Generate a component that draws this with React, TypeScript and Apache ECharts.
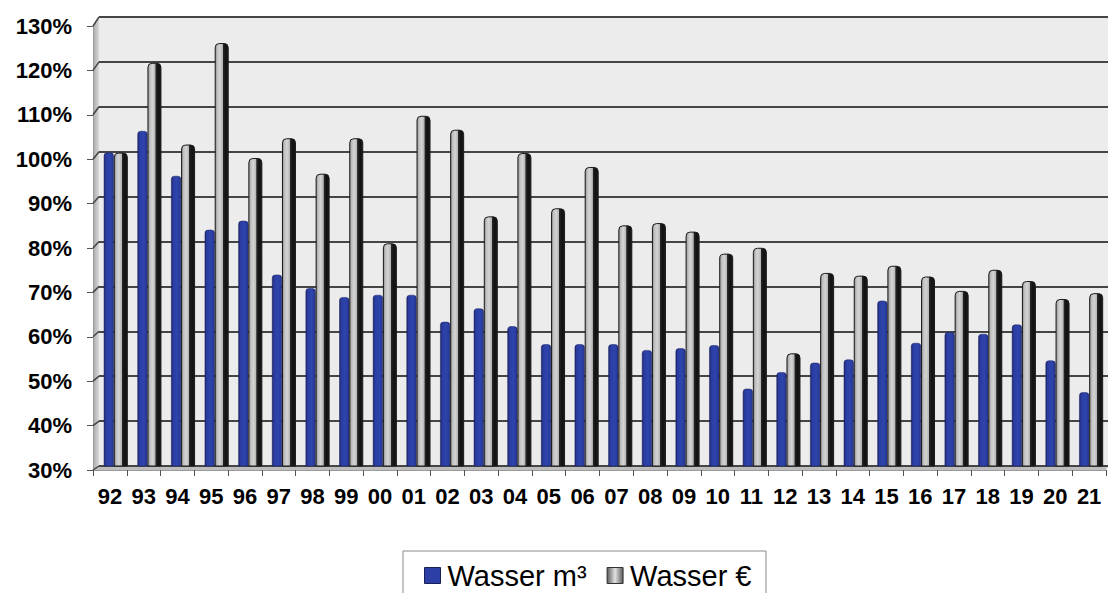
import React, { useEffect, useRef } from "react";
import * as echarts from "echarts";

const years = ["92","93","94","95","96","97","98","99","00","01","02","03","04","05","06","07","08","09","10","11","12","13","14","15","16","17","18","19","20","21"];
const wasserM3 = [99.8, 104.6, 94.6, 82.6, 84.6, 72.6, 69.6, 67.6, 68.1, 68.1, 62.1, 65.1, 61.1, 57.1, 57.1, 57.1, 55.8, 56.2, 56.9, 47.2, 50.9, 53, 53.7, 66.8, 57.4, 59.8, 59.4, 61.5, 53.5, 46.4];
const wasserEur = [99.8, 119.8, 101.6, 124.2, 98.6, 103, 95.1, 103, 79.6, 108, 104.9, 85.6, 99.7, 87.4, 96.6, 83.6, 84.1, 82.2, 77.3, 78.6, 55.1, 73, 72.4, 74.6, 72.2, 69, 73.7, 71.2, 67.2, 68.5];
const yMin = 30;
const yMax = 130;
const yStep = 10;

const W = 1110;
const H = 593;
const FRONT = { left: 93, right: 1106, top: 26, bottom: 470 };
const BACK = { left: 99, right: 1108, top: 17, bottom: 466 };
const FONT = "'Liberation Sans', Arial, Helvetica, sans-serif";

function frontY(v: number) {
  return FRONT.bottom - ((v - yMin) / (yMax - yMin)) * (FRONT.bottom - FRONT.top);
}
function backY(v: number) {
  return BACK.bottom - ((v - yMin) / (yMax - yMin)) * (BACK.bottom - BACK.top);
}

export default function App() {
  const ref = useRef<HTMLDivElement>(null);
  useEffect(() => {
    if (!ref.current) return;
    const chart = echarts.init(ref.current, undefined, { renderer: "svg" });

    const wallLines: any[] = [];
    for (let v = yMin; v <= yMax; v += yStep) {
      wallLines.push({
        type: "line",
        z: 1,
        shape: { x1: FRONT.left, y1: frontY(v), x2: BACK.left, y2: backY(v) },
        style: { stroke: "#444", lineWidth: 1.5 },
      });
    }

    const grayFill = new echarts.graphic.LinearGradient(0, 0, 1, 0, [
      { offset: 0, color: "#8a8a8a" },
      { offset: 0.15, color: "#bfbfbf" },
      { offset: 0.35, color: "#d4d4d4" },
      { offset: 0.56, color: "#b4b4b4" },
      { offset: 0.6, color: "#262626" },
      { offset: 0.8, color: "#111111" },
      { offset: 1, color: "#1c1c1c" },
    ]);
    const blueFill = new echarts.graphic.LinearGradient(0, 0, 1, 0, [
      { offset: 0, color: "#1a2168" },
      { offset: 0.18, color: "#2a3c9f" },
      { offset: 0.6, color: "#2e44ad" },
      { offset: 1, color: "#263792" },
    ]);

    chart.setOption({
      animation: false,
      backgroundColor: "#ffffff",
      textStyle: { fontFamily: FONT },
      grid: [
        {
          left: BACK.left,
          right: W - BACK.right,
          top: BACK.top,
          bottom: H - BACK.bottom,
          show: true,
          backgroundColor: "#ececec",
          borderWidth: 0,
        },
        {
          left: FRONT.left,
          right: W - FRONT.right,
          top: FRONT.top,
          bottom: H - FRONT.bottom,
          show: false,
        },
      ],
      xAxis: [
        {
          gridIndex: 0,
          type: "category",
          data: years,
          boundaryGap: true,
          show: false,
        },
        {
          gridIndex: 1,
          type: "category",
          data: years,
          boundaryGap: true,
          axisLine: { show: true, lineStyle: { color: "#9a9a9a", width: 1 } },
          axisTick: { show: true, length: 6, lineStyle: { color: "#555" } },
          axisLabel: {
            margin: 15,
            color: "#000",
            fontWeight: "bold",
            fontSize: 22,
            fontFamily: FONT,
            interval: 0,
          },
          splitLine: { show: false },
        },
      ],
      yAxis: [
        {
          gridIndex: 0,
          type: "value",
          min: yMin,
          max: yMax,
          interval: yStep,
          axisLine: { show: false },
          axisTick: { show: false },
          axisLabel: { show: false },
          splitLine: { show: true, lineStyle: { color: "#454545", width: 2 } },
        },
        {
          gridIndex: 1,
          type: "value",
          min: yMin,
          max: yMax,
          interval: yStep,
          axisLine: { show: true, lineStyle: { color: "#9a9a9a", width: 1 } },
          axisTick: { show: true, length: 6, lineStyle: { color: "#555" } },
          axisLabel: {
            margin: 21,
            color: "#000",
            fontWeight: "bold",
            fontSize: 22,
            fontFamily: FONT,
            formatter: "{value}%",
          },
          splitLine: { show: false },
        },
      ],
      legend: {
        left: 424,
        top: 561,
        padding: 0,
        itemWidth: 16,
        itemHeight: 16,
        itemGap: 20,
        icon: "rect",
        textStyle: { fontSize: 29, color: "#000", fontFamily: FONT, padding: [0, 0, 0, 2] },
        data: [
          {
            name: "Wasser m³",
            itemStyle: { color: "#2b3fa6", borderColor: "#1a1f55", borderWidth: 1 },
          },
          {
            name: "Wasser €",
            itemStyle: {
              color: new echarts.graphic.LinearGradient(0, 0, 1, 0, [
                { offset: 0, color: "#5a5a5a" },
                { offset: 0.5, color: "#e2e2e2" },
                { offset: 1, color: "#5a5a5a" },
              ]),
              borderColor: "#333",
              borderWidth: 1,
            },
          },
        ],
      },
      graphic: [
        {
          type: "polygon",
          z: 0,
          shape: {
            points: [
              [FRONT.left, FRONT.top],
              [BACK.left, BACK.top],
              [BACK.left, BACK.bottom],
              [FRONT.left, FRONT.bottom],
            ],
          },
          style: {
            fill: new echarts.graphic.LinearGradient(0, 0, 1, 0, [
              { offset: 0, color: "#a8a8a8" },
              { offset: 1, color: "#d8d8d8" },
            ]),
          },
        },
        {
          type: "polygon",
          z: 0,
          shape: {
            points: [
              [FRONT.left, FRONT.bottom],
              [BACK.left, BACK.bottom],
              [BACK.right, BACK.bottom],
              [FRONT.right, FRONT.bottom],
            ],
          },
          style: { fill: "#bdbdbd" },
        },
        ...wallLines,
        {
          type: "rect",
          z: 0,
          shape: { x: 403, y: 551, width: 363, height: 60 },
          style: { fill: "none", stroke: "#8a8a8a", lineWidth: 1 },
        },
      ],
      series: [
        {
          name: "Wasser m³",
          type: "bar",
          xAxisIndex: 0,
          yAxisIndex: 0,
          data: wasserM3,
          barWidth: 10,
          barGap: "0%",
          itemStyle: {
            color: blueFill,
            borderColor: "#1a2060",
            borderWidth: 0.5,
            borderRadius: [3, 3, 0, 0],
          },
        },
        {
          name: "Wasser €",
          type: "bar",
          xAxisIndex: 0,
          yAxisIndex: 0,
          data: wasserEur,
          barWidth: 14,
          barGap: "0%",
          itemStyle: {
            color: grayFill,
            borderColor: "#1a1a1a",
            borderWidth: 1,
            borderRadius: [4, 4, 0, 0],
          },
        },
      ],
    });

    return () => chart.dispose();
  }, []);

  return (
    <div
      ref={ref}
      style={{ position: "fixed", left: 0, top: 0, width: W, height: H }}
    />
  );
}
